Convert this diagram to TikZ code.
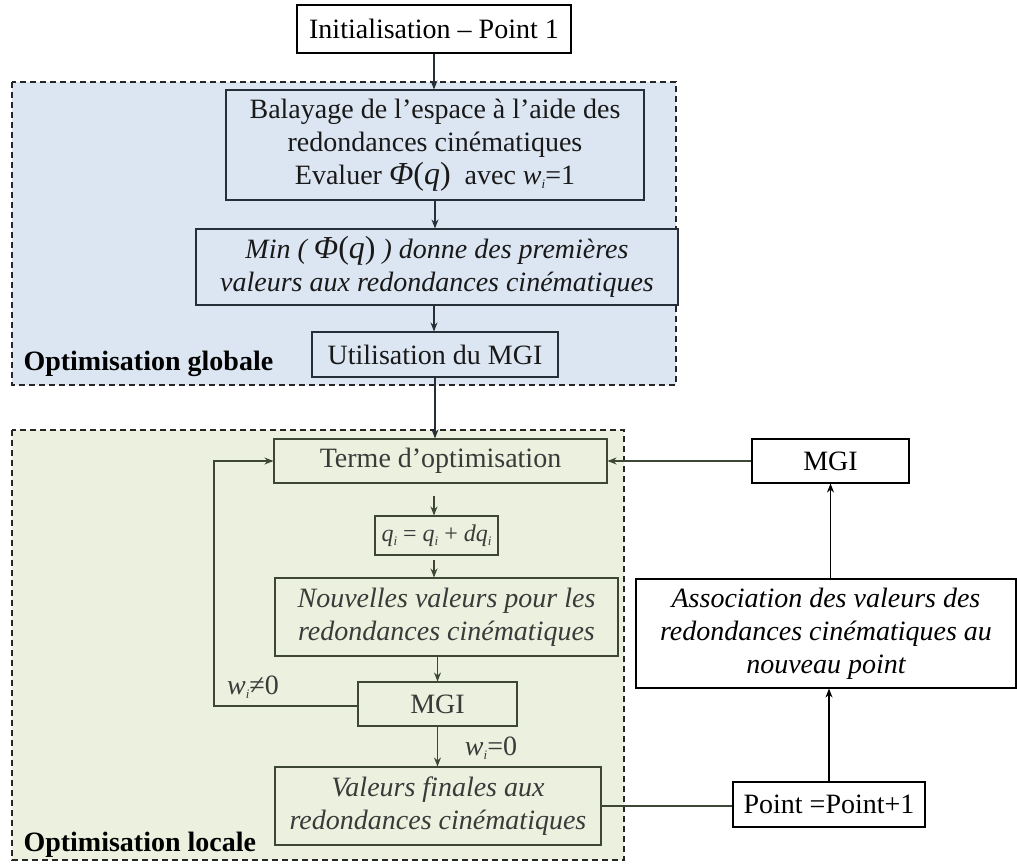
\documentclass[tikz,border=0pt]{standalone}
\usepackage{fontspec}
\setmainfont{Liberation Serif}
\usetikzlibrary{arrows.meta,calc}
\definecolor{gfill}{HTML}{DCE6F2}
\definecolor{lfill}{HTML}{EBF1DE}
\definecolor{gline}{HTML}{262E38}
\definecolor{lline}{HTML}{3E4736}
\definecolor{ltext}{HTML}{3A3A3A}
\newcommand{\myphi}{{\fontsize{32}{33}\selectfont\itshape Φ\upshape(\itshape q\upshape)}}
\newcommand{\myq}[1]{\textit{#1}\raisebox{-4pt}{\fontsize{13}{13}\selectfont\itshape i}}
\begin{document}
\begin{tikzpicture}[x=1pt,y=-1pt,
  every node/.style={font=\fontsize{28}{33}\selectfont},
  gbox/.style={draw=gline,line width=1.1pt,fill=gfill,text=black!90,align=center,inner sep=0pt},
  lbox/.style={draw=lline,line width=1.1pt,fill=lfill,text=ltext,align=center,inner sep=0pt},
  wbox/.style={draw=black,line width=1.1pt,fill=white,text=black,align=center,inner sep=0pt},
  region/.style={draw=black!85,line width=1.3pt,dash pattern=on 6pt off 4pt},
  arr/.style={-{Stealth[length=9pt,width=7pt]},line width=1.1pt},
  lab/.style={anchor=west,font=\fontsize{28}{33}\selectfont\bfseries}]
\useasboundingbox (0,0) rectangle (1017,864);
\fill[white] (0,0) rectangle (1017,864);
% regions
\draw[region,fill=gfill] (12,82) rectangle (676,385);
\draw[region,fill=lfill] (12,430) rectangle (624,860);
% nodes
\node[wbox,minimum width=274pt,minimum height=48pt] (init) at (434,29) {Initialisation – Point 1};
\node[gbox,minimum width=418pt,minimum height=110pt] (bal) at (435,145)
  {Balayage de l’espace à l’aide des\\redondances cinématiques\\Evaluer \myphi\ \ avec \myq{w}=1};
\node[gbox,minimum width=482pt,minimum height=76pt,font=\fontsize{28}{33}\selectfont\itshape] (min) at (437,267)
  {Min ( \myphi\ ) donne des premières\\valeurs aux redondances cinématiques};
\node[gbox,minimum width=246pt,minimum height=45pt] (util) at (435,354.5) {Utilisation du MGI};
\node[lab] (og) at (20,364) {Optimisation globale};
\node[lbox,minimum width=333pt,minimum height=44pt] (terme) at (440.5,461) {Terme d’optimisation};
\node[lbox,minimum width=123pt,minimum height=39pt,font=\fontsize{24}{28}\selectfont] (qi) at (436.5,535.5)
  {\myq{q} = \myq{q} + \textit{d}\myq{q}};
\node[lbox,minimum width=343pt,minimum height=78pt,font=\fontsize{28}{33}\selectfont\itshape] (nouv) at (446.5,617)
  {Nouvelles valeurs pour les\\redondances cinématiques};
\node[lbox,minimum width=159pt,minimum height=44pt] (mgil) at (437.5,704) {MGI};
\node[lbox,minimum width=326pt,minimum height=78pt,font=\fontsize{28}{33}\selectfont\itshape] (val) at (438,806)
  {Valeurs finales aux\\redondances cinématiques};
\node[lab] (ol) at (20,845) {Optimisation locale};
\node[wbox,minimum width=157pt,minimum height=44pt] (mgir) at (830.5,461) {MGI};
\node[wbox,minimum width=380pt,minimum height=109pt,font=\fontsize{28}{33}\selectfont\itshape] (assoc) at (826,633.5)
  {Association des valeurs des\\redondances cinématiques au\\nouveau point};
\node[wbox,minimum width=192pt,minimum height=45pt] (pt) at (829,804.5) {Point =Point+1};
\node[text=ltext] (wne) at (253,687) {\myq{w}≠0};
\node[text=ltext] (weq) at (491,748) {\myq{w}=0};
% connectors
\draw[arr,gline] (init.south) -- (init.south |- bal.north);
\draw[arr,gline] (bal.south) -- (bal.south |- min.north);
\coordinate (mbot) at (434,305);
\draw[arr,gline] (mbot) -- (mbot |- util.north);
\draw[arr,gline] (util.south) -- (util.south |- terme.north);
\coordinate (qtop) at (434,496);
\draw[arr,lline] (qtop) -- (qtop |- qi.north);
\coordinate (qbot) at (434,560);
\draw[arr,lline] (qbot) -- (qbot |- nouv.north);
\draw[arr,lline] (mgil.north |- nouv.south) -- (mgil.north);
\draw[arr,lline] (mgil.south) -- (mgil.south |- val.north);
\coordinate (loop) at (214,706);
\draw[arr,lline] (mgil.west |- loop) -- (loop) |- (terme.west);
\draw[line width=1.1pt,lline] (val.east) -- (val.east -| pt.west);
\draw[arr,black] (pt.north) -- (pt.north |- assoc.south);
\draw[arr,black] (mgir.south |- assoc.north) -- (mgir.south);
\draw[arr,lline] (mgir.west) -- (terme.east);
\end{tikzpicture}
\end{document}
